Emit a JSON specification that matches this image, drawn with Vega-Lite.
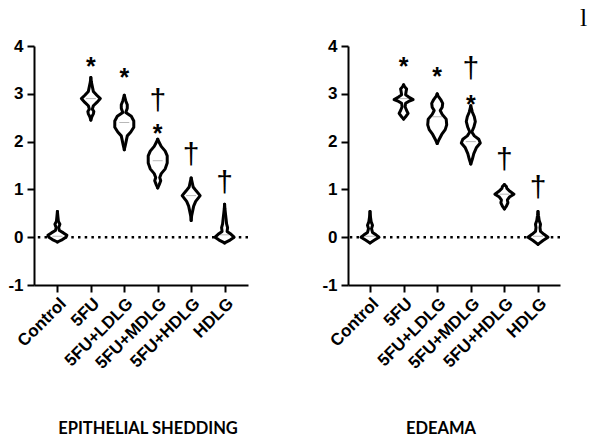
{
  "$schema": "https://vega.github.io/schema/vega-lite/v6.json",
  "background": "white",
  "padding": {"left": 7, "top": 5, "right": 5, "bottom": 0},
  "title": {"text": "l", "anchor": "end", "font": "Liberation Serif", "fontSize": 26, "fontWeight": "normal", "color": "black", "dx": 26, "offset": 6},
  "config": {
    "view": {"stroke": null},
    "axis": {"domainColor": "black", "domainWidth": 2, "tickColor": "black", "tickWidth": 2, "tickSize": 7, "labelFont": "Liberation Sans", "labelFontWeight": "bold", "labelFontSize": 17, "labelColor": "black", "grid": false, "title": null}
  },
  "datasets": {
    "shedding": [
      {"group":"Control","value":-0.1,"density":0},{"group":"Control","value":-0.05,"density":0.5},{"group":"Control","value":0.0,"density":0.85},{"group":"Control","value":0.04,"density":0.95},{"group":"Control","value":0.09,"density":0.6},{"group":"Control","value":0.14,"density":0.2},{"group":"Control","value":0.2,"density":0.12},{"group":"Control","value":0.27,"density":0.25},{"group":"Control","value":0.33,"density":0.1},{"group":"Control","value":0.43,"density":0.05},{"group":"Control","value":0.54,"density":0},
      {"group":"5FU","value":2.45,"density":0},{"group":"5FU","value":2.52,"density":0.1},{"group":"5FU","value":2.58,"density":0.25},{"group":"5FU","value":2.63,"density":0.3},{"group":"5FU","value":2.68,"density":0.15},{"group":"5FU","value":2.75,"density":0.25},{"group":"5FU","value":2.82,"density":0.6},{"group":"5FU","value":2.9,"density":0.95},{"group":"5FU","value":2.97,"density":0.6},{"group":"5FU","value":3.05,"density":0.25},{"group":"5FU","value":3.15,"density":0.15},{"group":"5FU","value":3.25,"density":0.05},{"group":"5FU","value":3.34,"density":0},
      {"group":"5FU+LDLG","value":1.83,"density":0},{"group":"5FU+LDLG","value":1.92,"density":0.1},{"group":"5FU+LDLG","value":2.02,"density":0.2},{"group":"5FU+LDLG","value":2.12,"density":0.3},{"group":"5FU+LDLG","value":2.2,"density":0.65},{"group":"5FU+LDLG","value":2.3,"density":0.95},{"group":"5FU+LDLG","value":2.43,"density":0.95},{"group":"5FU+LDLG","value":2.53,"density":0.7},{"group":"5FU+LDLG","value":2.61,"density":0.15},{"group":"5FU+LDLG","value":2.7,"density":0.3},{"group":"5FU+LDLG","value":2.77,"density":0.3},{"group":"5FU+LDLG","value":2.85,"density":0.15},{"group":"5FU+LDLG","value":2.97,"density":0},
      {"group":"5FU+MDLG","value":1.03,"density":0},{"group":"5FU+MDLG","value":1.1,"density":0.15},{"group":"5FU+MDLG","value":1.18,"density":0.3},{"group":"5FU+MDLG","value":1.25,"density":0.2},{"group":"5FU+MDLG","value":1.33,"density":0.35},{"group":"5FU+MDLG","value":1.43,"density":0.75},{"group":"5FU+MDLG","value":1.55,"density":0.95},{"group":"5FU+MDLG","value":1.7,"density":0.95},{"group":"5FU+MDLG","value":1.8,"density":0.75},{"group":"5FU+MDLG","value":1.9,"density":0.35},{"group":"5FU+MDLG","value":1.98,"density":0.15},{"group":"5FU+MDLG","value":2.05,"density":0},
      {"group":"5FU+HDLG","value":0.35,"density":0},{"group":"5FU+HDLG","value":0.45,"density":0.05},{"group":"5FU+HDLG","value":0.55,"density":0.15},{"group":"5FU+HDLG","value":0.65,"density":0.25},{"group":"5FU+HDLG","value":0.75,"density":0.45},{"group":"5FU+HDLG","value":0.87,"density":0.9},{"group":"5FU+HDLG","value":0.97,"density":0.5},{"group":"5FU+HDLG","value":1.05,"density":0.2},{"group":"5FU+HDLG","value":1.15,"density":0.1},{"group":"5FU+HDLG","value":1.24,"density":0},
      {"group":"HDLG","value":-0.12,"density":0},{"group":"HDLG","value":-0.06,"density":0.55},{"group":"HDLG","value":0.0,"density":0.95},{"group":"HDLG","value":0.06,"density":0.65},{"group":"HDLG","value":0.12,"density":0.25},{"group":"HDLG","value":0.2,"density":0.3},{"group":"HDLG","value":0.28,"density":0.2},{"group":"HDLG","value":0.38,"density":0.15},{"group":"HDLG","value":0.5,"density":0.08},{"group":"HDLG","value":0.6,"density":0.03},{"group":"HDLG","value":0.69,"density":0}
    ],
    "edema": [
      {"group":"Control","value":-0.12,"density":0},{"group":"Control","value":-0.06,"density":0.45},{"group":"Control","value":0.0,"density":0.9},{"group":"Control","value":0.05,"density":0.6},{"group":"Control","value":0.1,"density":0.25},{"group":"Control","value":0.18,"density":0.15},{"group":"Control","value":0.25,"density":0.25},{"group":"Control","value":0.32,"density":0.12},{"group":"Control","value":0.42,"density":0.05},{"group":"Control","value":0.54,"density":0},
      {"group":"5FU","value":2.47,"density":0},{"group":"5FU","value":2.52,"density":0.2},{"group":"5FU","value":2.59,"density":0.45},{"group":"5FU","value":2.65,"density":0.3},{"group":"5FU","value":2.73,"density":0.15},{"group":"5FU","value":2.8,"density":0.2},{"group":"5FU","value":2.84,"density":0.5},{"group":"5FU","value":2.88,"density":0.95},{"group":"5FU","value":2.92,"density":0.6},{"group":"5FU","value":2.98,"density":0.2},{"group":"5FU","value":3.05,"density":0.25},{"group":"5FU","value":3.1,"density":0.3},{"group":"5FU","value":3.15,"density":0.1},{"group":"5FU","value":3.19,"density":0},
      {"group":"5FU+LDLG","value":1.96,"density":0},{"group":"5FU+LDLG","value":2.05,"density":0.2},{"group":"5FU+LDLG","value":2.15,"density":0.45},{"group":"5FU+LDLG","value":2.25,"density":0.8},{"group":"5FU+LDLG","value":2.35,"density":0.95},{"group":"5FU+LDLG","value":2.47,"density":0.9},{"group":"5FU+LDLG","value":2.57,"density":0.5},{"group":"5FU+LDLG","value":2.65,"density":0.3},{"group":"5FU+LDLG","value":2.72,"density":0.5},{"group":"5FU+LDLG","value":2.8,"density":0.55},{"group":"5FU+LDLG","value":2.88,"density":0.35},{"group":"5FU+LDLG","value":2.95,"density":0.1},{"group":"5FU+LDLG","value":3.0,"density":0},
      {"group":"5FU+MDLG","value":1.53,"density":0},{"group":"5FU+MDLG","value":1.63,"density":0.15},{"group":"5FU+MDLG","value":1.75,"density":0.3},{"group":"5FU+MDLG","value":1.87,"density":0.55},{"group":"5FU+MDLG","value":1.97,"density":0.95},{"group":"5FU+MDLG","value":2.05,"density":0.8},{"group":"5FU+MDLG","value":2.12,"density":0.35},{"group":"5FU+MDLG","value":2.2,"density":0.1},{"group":"5FU+MDLG","value":2.3,"density":0.3},{"group":"5FU+MDLG","value":2.42,"density":0.45},{"group":"5FU+MDLG","value":2.52,"density":0.35},{"group":"5FU+MDLG","value":2.62,"density":0.15},{"group":"5FU+MDLG","value":2.75,"density":0},
      {"group":"5FU+HDLG","value":0.59,"density":0},{"group":"5FU+HDLG","value":0.65,"density":0.2},{"group":"5FU+HDLG","value":0.72,"density":0.35},{"group":"5FU+HDLG","value":0.78,"density":0.3},{"group":"5FU+HDLG","value":0.84,"density":0.5},{"group":"5FU+HDLG","value":0.9,"density":0.95},{"group":"5FU+HDLG","value":0.96,"density":0.55},{"group":"5FU+HDLG","value":1.02,"density":0.25},{"group":"5FU+HDLG","value":1.06,"density":0.2},{"group":"5FU+HDLG","value":1.1,"density":0},
      {"group":"HDLG","value":-0.15,"density":0},{"group":"HDLG","value":-0.07,"density":0.5},{"group":"HDLG","value":0.0,"density":1.0},{"group":"HDLG","value":0.06,"density":0.6},{"group":"HDLG","value":0.12,"density":0.25},{"group":"HDLG","value":0.2,"density":0.2},{"group":"HDLG","value":0.27,"density":0.25},{"group":"HDLG","value":0.35,"density":0.12},{"group":"HDLG","value":0.45,"density":0.05},{"group":"HDLG","value":0.54,"density":0}
    ],
    "shedding_marks": [
      {"group":"5FU","label":"*","value":3.69},{"group":"5FU+LDLG","label":"*","value":3.46},{"group":"5FU+MDLG","label":"†","value":2.82},{"group":"5FU+MDLG","label":"*","value":2.29},{"group":"5FU+HDLG","label":"†","value":1.7},{"group":"HDLG","label":"†","value":1.11}
    ],
    "edema_marks": [
      {"group":"5FU","label":"*","value":3.69},{"group":"5FU+LDLG","label":"*","value":3.48},{"group":"5FU+MDLG","label":"†","value":3.5},{"group":"5FU+MDLG","label":"*","value":2.89},{"group":"5FU+HDLG","label":"†","value":1.59},{"group":"HDLG","label":"†","value":1.0}
    ],
    "shedding_med": [
      {"group":"Control","value":0.02},{"group":"5FU","value":2.9},{"group":"5FU+LDLG","value":2.4},{"group":"5FU+MDLG","value":1.6},{"group":"5FU+HDLG","value":0.87},{"group":"HDLG","value":0.05}
    ],
    "edema_med": [
      {"group":"Control","value":0.02},{"group":"5FU","value":2.9},{"group":"5FU+LDLG","value":2.52},{"group":"5FU+MDLG","value":2.0},{"group":"5FU+HDLG","value":0.9},{"group":"HDLG","value":0.02}
    ],
    "zero": [{"value": 0}]
  },
  "spacing": 71,
  "hconcat": [
    {
      "width": 214, "height": 239,
      "title": {"text": "EPITHELIAL SHEDDING", "orient": "bottom", "offset": 50, "font": "Lato", "fontSize": 16.5, "fontWeight": "bold", "color": "black", "dx": 7},
      "resolve": {"scale": {"size": "independent", "xOffset": "independent"}},
      "encoding": {
        "x": {"field": "group", "type": "nominal", "scale": {"type": "point", "domain": ["Control","5FU","5FU+LDLG","5FU+MDLG","5FU+HDLG","HDLG"], "padding": 0.7}, "axis": {"labelAngle": -45, "labelPadding": 3}},
        "y": {"field": "value", "type": "quantitative", "scale": {"domain": [-1, 4], "nice": false, "zero": false}, "axis": {"values": [-1,0,1,2,3,4], "labelPadding": 4, "labelExpr": "replace(datum.label, '\u2212', '-')"}}
      },
      "layer": [
        {"data": {"name": "zero"}, "mark": {"type": "rule", "color": "black", "strokeWidth": 2.5, "strokeDash": [2.5, 4.2]}, "encoding": {"x": null}},
        {"data": {"name": "shedding"}, "mark": {"type": "trail", "color": "white"},
         "encoding": {"size": {"field": "density", "type": "quantitative", "scale": {"domain": [0.15, 1.2], "range": [0, 21], "clamp": true}, "legend": null}, "order": {"field": "value", "type": "quantitative"}, "detail": {"field": "group"}}},
        {"data": {"name": "shedding_med"}, "mark": {"type": "tick", "color": "#9a9a9a", "thickness": 1, "size": 10}},
        {"data": {"name": "shedding"}, "mark": {"type": "line", "color": "black", "strokeWidth": 3, "strokeJoin": "round", "strokeCap": "round"},
         "encoding": {"xOffset": {"field": "density", "type": "quantitative", "scale": {"domain": [0, 1.2], "range": [0, 12]}}, "order": {"field": "value", "type": "quantitative"}, "detail": {"field": "group"}}},
        {"data": {"name": "shedding"}, "mark": {"type": "line", "color": "black", "strokeWidth": 3, "strokeJoin": "round", "strokeCap": "round"},
         "encoding": {"xOffset": {"field": "density", "type": "quantitative", "scale": {"domain": [0, 1.2], "range": [0, -12]}}, "order": {"field": "value", "type": "quantitative"}, "detail": {"field": "group"}}},
        {"data": {"name": "shedding_marks"}, "transform": [{"filter": "datum.label == '*'"}], "mark": {"type": "text", "font": "Liberation Sans", "fontSize": 25, "fontWeight": "bold", "color": "black", "baseline": "alphabetic", "dy": 14}, "encoding": {"text": {"field": "label"}}},
        {"data": {"name": "shedding_marks"}, "transform": [{"filter": "datum.label != '*'"}], "mark": {"type": "text", "font": "Liberation Sans", "fontSize": 30, "fontWeight": "normal", "color": "black", "baseline": "alphabetic", "dy": 8}, "encoding": {"text": {"field": "label"}}}
      ]
    },
    {
      "width": 212, "height": 239,
      "title": {"text": "EDEAMA", "orient": "bottom", "offset": 50, "font": "Lato", "fontSize": 16.5, "fontWeight": "bold", "color": "black", "dx": -13},
      "resolve": {"scale": {"size": "independent", "xOffset": "independent"}},
      "encoding": {
        "x": {"field": "group", "type": "nominal", "scale": {"type": "point", "domain": ["Control","5FU","5FU+LDLG","5FU+MDLG","5FU+HDLG","HDLG"], "padding": 0.655}, "axis": {"labelAngle": -45, "labelPadding": 3}},
        "y": {"field": "value", "type": "quantitative", "scale": {"domain": [-1, 4], "nice": false, "zero": false}, "axis": {"values": [-1,0,1,2,3,4], "labelPadding": 4, "labelExpr": "replace(datum.label, '\u2212', '-')"}}
      },
      "layer": [
        {"data": {"name": "zero"}, "mark": {"type": "rule", "color": "black", "strokeWidth": 2.5, "strokeDash": [2.5, 4.2]}, "encoding": {"x": null}},
        {"data": {"name": "edema"}, "mark": {"type": "trail", "color": "white"},
         "encoding": {"size": {"field": "density", "type": "quantitative", "scale": {"domain": [0.15, 1.2], "range": [0, 21], "clamp": true}, "legend": null}, "order": {"field": "value", "type": "quantitative"}, "detail": {"field": "group"}}},
        {"data": {"name": "edema_med"}, "mark": {"type": "tick", "color": "#9a9a9a", "thickness": 1, "size": 10}},
        {"data": {"name": "edema"}, "mark": {"type": "line", "color": "black", "strokeWidth": 3, "strokeJoin": "round", "strokeCap": "round"},
         "encoding": {"xOffset": {"field": "density", "type": "quantitative", "scale": {"domain": [0, 1.2], "range": [0, 12]}}, "order": {"field": "value", "type": "quantitative"}, "detail": {"field": "group"}}},
        {"data": {"name": "edema"}, "mark": {"type": "line", "color": "black", "strokeWidth": 3, "strokeJoin": "round", "strokeCap": "round"},
         "encoding": {"xOffset": {"field": "density", "type": "quantitative", "scale": {"domain": [0, 1.2], "range": [0, -12]}}, "order": {"field": "value", "type": "quantitative"}, "detail": {"field": "group"}}},
        {"data": {"name": "edema_marks"}, "transform": [{"filter": "datum.label == '*'"}], "mark": {"type": "text", "font": "Liberation Sans", "fontSize": 25, "fontWeight": "bold", "color": "black", "baseline": "alphabetic", "dy": 14}, "encoding": {"text": {"field": "label"}}},
        {"data": {"name": "edema_marks"}, "transform": [{"filter": "datum.label != '*'"}], "mark": {"type": "text", "font": "Liberation Sans", "fontSize": 30, "fontWeight": "normal", "color": "black", "baseline": "alphabetic", "dy": 8}, "encoding": {"text": {"field": "label"}}}
      ]
    }
  ]
}
